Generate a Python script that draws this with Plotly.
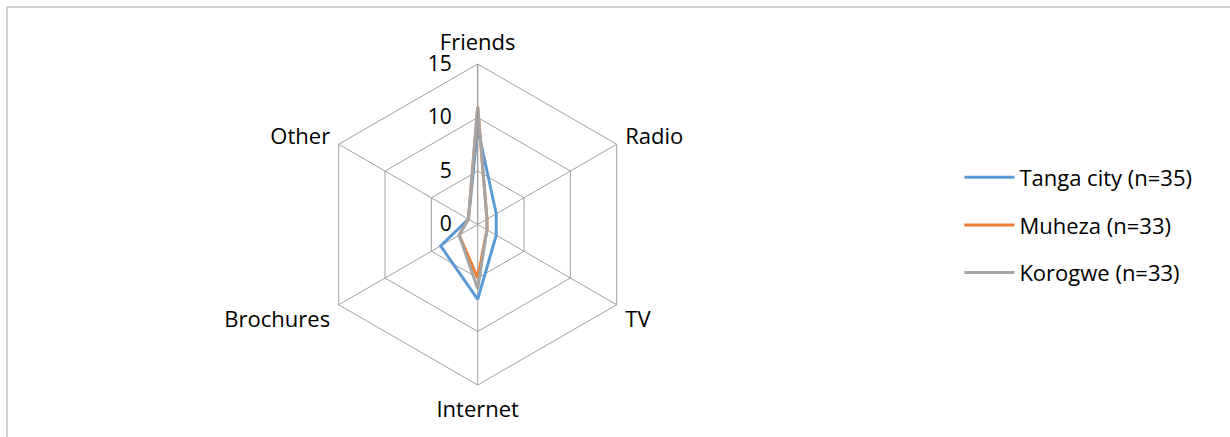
import plotly.graph_objects as go

categories = ["Friends", "Radio", "TV", "Internet", "Brochures", "Other"]

tanga = [9, 2, 2, 7, 4, 1]
muheza = [11, 1, 1, 5, 2, 1]
korogwe = [11, 1, 1, 6, 2, 1]

series = [
    ("Tanga city (n=35)", tanga, "#5B9BD5"),
    ("Muheza (n=33)", muheza, "#ED7D31"),
    ("Korogwe (n=33)", korogwe, "#A5A5A5"),
]

W, H = 1230, 437
cx, cy, R = 477.7, 224.5, 160.5

fig = go.Figure()
for i, (name, vals, col) in enumerate(series):
    fig.add_trace(go.Scatterpolar(
        r=vals + vals[:1], theta=categories + categories[:1],
        mode="lines", name=name, legendgroup=f"g{i}",
        line=dict(color=col, width=3),
    ))

fig.update_layout(
    width=W, height=H,
    margin=dict(l=0, r=0, t=0, b=0),
    paper_bgcolor="white", plot_bgcolor="white",
    font=dict(family="Open Sans, sans-serif", size=22, color="#000000"),
    polar=dict(
        domain=dict(x=[(cx - R) / W, (cx + R) / W], y=[1 - (cy + R) / H, 1 - (cy - R) / H]),
        gridshape="linear",
        bgcolor="white",
        radialaxis=dict(
            range=[0, 15], dtick=5, angle=90, tickangle=90, side="counterclockwise",
            showline=True, linecolor="#999999", linewidth=1,
            gridcolor="#a0a0a0", gridwidth=1,
            ticks="outside", ticklen=18, tickcolor="rgba(0,0,0,0)",
            tickfont=dict(size=21),
        ),
        angularaxis=dict(
            direction="clockwise", rotation=90,
            showline=True, linecolor="#a0a0a0", linewidth=1,
            gridcolor="#a0a0a0", gridwidth=1,
            ticks="outside", ticklen=5, tickcolor="rgba(0,0,0,0)",
            tickfont=dict(size=22),
        ),
    ),
    legend=dict(
        x=0.78, y=0.485, xanchor="left", yanchor="middle",
        tracegroupgap=16, itemwidth=50, font=dict(size=22),
        bgcolor="rgba(0,0,0,0)",
    ),
    showlegend=True,
)

fig.add_shape(type="rect", xref="paper", yref="paper",
              x0=7 / W, x1=1.05, y0=-0.05, y1=1 - 7 / H,
              line=dict(color="#a6a6a6", width=1), layer="below")

fig.write_html("out.html", config={"displayModeBar": False},
               post_script="document.body.style.margin='0';")
